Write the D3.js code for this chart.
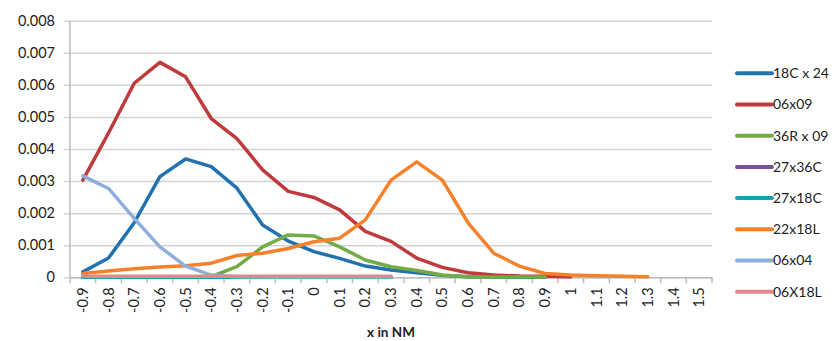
<!DOCTYPE html>
<html>
<head>
<meta charset="utf-8">
<script src="https://cdn.jsdelivr.net/npm/d3@7"></script>
<style>
  body { margin: 0; background: #fff; }
  text { font-family: Lato, "Open Sans", sans-serif; fill: #222; }
</style>
</head>
<body>
<div id="chart"></div>
<script>
const categories = ['-0.9', '-0.8', '-0.7', '-0.6', '-0.5', '-0.4', '-0.3', '-0.2', '-0.1', '0',
  '0.1', '0.2', '0.3', '0.4', '0.5', '0.6', '0.7', '0.8', '0.9', '1',
  '1.1', '1.2', '1.3', '1.4', '1.5'];
const yTicks = [0, 0.001, 0.002, 0.003, 0.004, 0.005, 0.006, 0.007, 0.008];

const seriesNames = ['18C x 24', '06x09', '36R x 09', '27x36C', '27x18C', '22x18L', '06x04', '06X18L'];
const seriesColors = ['#2372b0', '#c0393b', '#73ab46', '#7b4f9d', '#17a2b0', '#f5822a', '#8eaedb', '#e5868f'];

const s18Cx24 = [0.00017, 0.0006, 0.0017, 0.00314, 0.00369, 0.00345, 0.00278, 0.00163, 0.00113, 0.0008,
  0.00059, 0.00035, 0.00023, 0.00014, 0.00006, 0.00002, 0.00001, 0, 0];
const s06x09 = [0.00303, 0.0045, 0.00605, 0.0067, 0.00625, 0.00495, 0.00432, 0.00335, 0.00268, 0.00249,
  0.0021, 0.00143, 0.00112, 0.0006, 0.00031, 0.00014, 0.00007, 0.00004, 0.00003, 0.00002];
const s36Rx09 = [0, 0, 0, 0, 0, 0.00002, 0.00033, 0.00095, 0.00132, 0.00129,
  0.00095, 0.00054, 0.00033, 0.00021, 0.00007, 0.00002, 0.00001, 0.00001, 0.00001];
const s27x36C = [0, 0, 0, 0, 0, 0, 0, 0, 0, 0, 0, 0, 0];
const s27x18C = [0, 0, 0, 0, 0, 0, 0, 0, 0, 0, 0, 0, 0];
const s22x18L = [0.00012, 0.0002, 0.00027, 0.00032, 0.00036, 0.00044, 0.00068, 0.00075, 0.0009, 0.00111,
  0.00122, 0.00179, 0.00303, 0.0036, 0.00303, 0.0017, 0.00075, 0.00035, 0.00012, 0.00007,
  0.00005, 0.00003, 0.00002];
const s06x04 = [0.00316, 0.00277, 0.00184, 0.00095, 0.00035, 0.00007, 0.00002, 0.00001, 0.00001, 0.00001,
  0.00001, 0.00001, 0.00001];
const s06X18L = [0.00003, 0.00003, 0.00003, 0.00003, 0.00003, 0.00003, 0.00003, 0.00003, 0.00003, 0.00003,
  0.00003, 0.00003, 0.00003];

const seriesValues = [s18Cx24, s06x09, s36Rx09, s27x36C, s27x18C, s22x18L, s06x04, s06X18L];

const width = 835;
const height = 341;
const plot = { left: 70, right: 712, top: 20.7, bottom: 277.3 };

const svg = d3.select('#chart')
  .append('svg')
  .attr('width', width)
  .attr('height', height);

// Scales
const x = d3.scaleBand()
  .domain(categories)
  .range([plot.left, plot.right])
  .padding(0);

const y = d3.scaleLinear()
  .domain([0, 0.008])
  .range([plot.bottom, plot.top]);

// Gridlines + y labels
const yAxis = d3.axisLeft(y)
  .tickValues(yTicks)
  .tickSize(-(plot.right - plot.left) - 6)
  .tickPadding(9)
  .tickFormat(d => d === 0 ? '0' : d3.format('.3f')(d));

const gy = svg.append('g')
  .attr('transform', 'translate(' + (plot.left - 6) + ',0)')
  .call(yAxis);
gy.select('.domain').remove();
gy.selectAll('line').attr('stroke', '#d4d4d4').attr('stroke-width', 1.5);
gy.selectAll('text').attr('font-size', '14.5px').attr('fill', '#222');

// y axis line
svg.append('line')
  .attr('x1', plot.left).attr('x2', plot.left)
  .attr('y1', plot.top).attr('y2', plot.bottom)
  .attr('stroke', '#bdbdbd').attr('stroke-width', 1.5);

// x axis labels
const xAxis = d3.axisBottom(x).tickSize(0).tickPadding(0);
const gx = svg.append('g')
  .attr('transform', 'translate(0,' + plot.bottom + ')')
  .call(xAxis);
gx.select('.domain').attr('stroke', '#bdbdbd').attr('stroke-width', 1.5);
gx.selectAll('text')
  .attr('font-size', '14.5px')
  .attr('fill', '#222')
  .attr('transform', 'rotate(-90)')
  .attr('text-anchor', 'end')
  .attr('x', -10)
  .attr('y', 0)
  .attr('dy', '0.35em');

// category boundary ticks
const boundaries = categories.map(c => x(c)).concat([x.range()[1]]);
svg.append('g')
  .selectAll('line')
  .data(boundaries)
  .enter()
  .append('line')
  .attr('x1', d => d).attr('x2', d => d)
  .attr('y1', plot.bottom).attr('y2', plot.bottom + 6)
  .attr('stroke', '#bdbdbd').attr('stroke-width', 1.5);

// x axis title
svg.append('text')
  .attr('x', (plot.left + plot.right) / 2)
  .attr('y', 337)
  .attr('text-anchor', 'middle')
  .attr('font-size', '13.5px')
  .attr('font-weight', 'bold')
  .text('x in NM');

// Lines
const line = d3.line()
  .x((d, i) => x(categories[i]) + x.bandwidth() / 2)
  .y(d => y(d));

svg.append('g')
  .selectAll('path')
  .data(seriesValues)
  .enter()
  .append('path')
  .attr('d', d => line(d))
  .attr('fill', 'none')
  .attr('stroke', (d, i) => seriesColors[i])
  .attr('stroke-width', 3.5)
  .attr('stroke-linejoin', 'round')
  .attr('stroke-linecap', 'round');

// Legend
const legend = svg.append('g')
  .selectAll('g')
  .data(seriesNames)
  .enter()
  .append('g')
  .attr('transform', (d, i) => 'translate(737,' + (73.3 + i * 31.2) + ')');

legend.append('line')
  .attr('x1', 0).attr('x2', 35)
  .attr('stroke', (d, i) => seriesColors[i])
  .attr('stroke-width', 4)
  .attr('stroke-linecap', 'round');

legend.append('text')
  .attr('x', 36)
  .attr('dy', '0.35em')
  .attr('font-size', '14px')
  .text(d => d);
</script>
</body>
</html>
